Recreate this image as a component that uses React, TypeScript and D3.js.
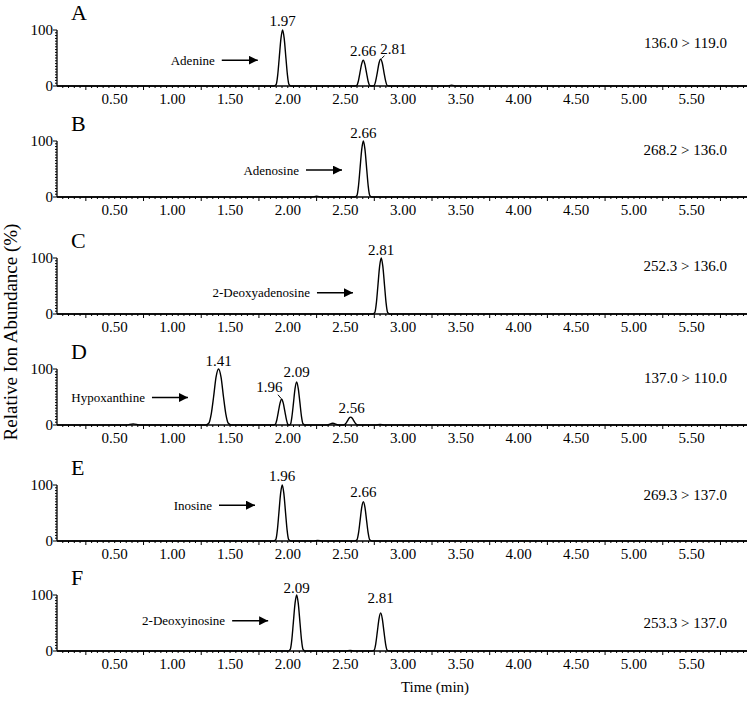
import React, { useEffect, useRef } from 'react';
import * as d3 from 'd3';

type Pt = [number, number];

// panel meta
const panelLetters = ['A', 'B', 'C', 'D', 'E', 'F'];
const transitions = ['136.0 > 119.0', '268.2 > 136.0', '252.3 > 136.0', '137.0 > 110.0', '269.3 > 137.0', '253.3 > 137.0'];
const transitionLevels = [77, 84, 86, 84, 82, 50];
const compounds = ['Adenine', 'Adenosine', '2-Deoxyadenosine', 'Hypoxanthine', 'Inosine', '2-Deoxyinosine'];
const arrowTips = [1.74, 2.47, 2.565, 1.135, 1.716, 1.83];
const arrowLevels = [46, 48, 38, 49, 64, 54];

// x axis tick labels
const xTickValues = [0.5, 1.0, 1.5, 2.0, 2.5, 3.0, 3.5, 4.0, 4.5, 5.0, 5.5];
const xTickLabels = ['0.50', '1.00', '1.50', '2.00', '2.50', '3.00', '3.50', '4.00', '4.50', '5.00', '5.50'];

// chromatogram traces (time, relative abundance %)
const traceA: Pt[] = [
  [0, 0], [1.88, 0], [1.9, 3], [1.913, 20], [1.926, 50], [1.941, 85], [1.955, 100], [1.969, 85], [1.984, 50], [1.997, 20], [2.01, 3], [2.03, 0],
  [2.579, 0], [2.599, 1.4], [2.612, 9], [2.625, 23], [2.64, 39], [2.654, 46], [2.668, 39], [2.683, 23], [2.696, 9], [2.709, 1.4], [2.729, 0],
  [2.732, 0], [2.75, 1.4], [2.763, 10], [2.776, 24], [2.791, 41], [2.805, 48], [2.819, 41], [2.834, 24], [2.847, 10], [2.86, 1.4], [2.88, 0],
  [3.38, 0], [3.42, 1.5], [3.46, 0], [5.98, 0],
];
const traceB: Pt[] = [
  [0, 0], [2.21, 0], [2.25, 1.5], [2.29, 0],
  [2.58, 0], [2.6, 3], [2.613, 20], [2.626, 50], [2.641, 85], [2.655, 100], [2.669, 85], [2.684, 50], [2.697, 20], [2.71, 3], [2.73, 0],
  [5.98, 0],
];
const traceC: Pt[] = [
  [0, 0], [2.735, 0], [2.755, 3], [2.768, 20], [2.781, 50], [2.796, 85], [2.81, 100], [2.824, 85], [2.839, 50], [2.852, 20], [2.865, 3], [2.885, 0],
  [5.98, 0],
];
const traceD: Pt[] = [
  [0, 0], [0.6, 0], [0.66, 2], [0.72, 0],
  [1.29, 0], [1.315, 3], [1.337, 20], [1.357, 50], [1.378, 85], [1.4, 100], [1.422, 85], [1.443, 50], [1.463, 20], [1.485, 3], [1.51, 0],
  [1.872, 0], [1.892, 1.4], [1.905, 9], [1.918, 23], [1.933, 39], [1.947, 46], [1.961, 39], [1.976, 23], [1.989, 9], [2.0, 1.4], [2.01, 0],
  [2.014, 0], [2.025, 2.3], [2.036, 15], [2.049, 38.5], [2.063, 65], [2.077, 77], [2.091, 65], [2.106, 38.5], [2.119, 15], [2.132, 2.3], [2.152, 0],
  [2.34, 0], [2.39, 3], [2.44, 0],
  [2.47, 0], [2.49, 0.4], [2.503, 2.8], [2.516, 7], [2.531, 12], [2.545, 14], [2.559, 12], [2.574, 7], [2.587, 2.8], [2.6, 0.4], [2.62, 0],
  [2.76, 0], [2.8, 0.8], [2.84, 0],
  [5.98, 0],
];
const traceE: Pt[] = [
  [0, 0], [1.877, 0], [1.897, 3], [1.91, 20], [1.923, 50], [1.938, 85], [1.952, 100], [1.966, 85], [1.981, 50], [1.994, 20], [2.007, 3], [2.027, 0],
  [2.22, 0], [2.26, 1], [2.3, 0],
  [2.58, 0], [2.6, 2.1], [2.613, 14], [2.626, 35], [2.641, 60], [2.655, 70], [2.669, 60], [2.684, 35], [2.697, 14], [2.71, 2.1], [2.73, 0],
  [5.98, 0],
];
const traceF: Pt[] = [
  [0, 0], [2.002, 0], [2.022, 3], [2.035, 20], [2.048, 50], [2.063, 85], [2.077, 100], [2.091, 85], [2.106, 50], [2.119, 20], [2.132, 3], [2.152, 0],
  [2.5, 0], [2.54, 1], [2.58, 0],
  [2.73, 0], [2.75, 2], [2.763, 13.6], [2.776, 34], [2.791, 58], [2.805, 68], [2.819, 58], [2.834, 34], [2.847, 13.6], [2.86, 2], [2.88, 0],
  [5.98, 0],
];
const traces = [traceA, traceB, traceC, traceD, traceE, traceF];

// retention time labels: text, time, level (%), optional leader line
type PeakLabel = { text: string; t: number; v: number; leader?: Pt[] };
const peakLabels: PeakLabel[][] = [
  [
    { text: '1.97', t: 1.955, v: 107 },
    { text: '2.66', t: 2.654, v: 54 },
    { text: '2.81', t: 2.915, v: 58, leader: [[2.838, 54], [2.812, 49]] },
  ],
  [{ text: '2.66', t: 2.655, v: 105 }],
  [{ text: '2.81', t: 2.81, v: 105 }],
  [
    { text: '1.41', t: 1.4, v: 105 },
    { text: '1.96', t: 1.84, v: 59.5, leader: [[1.915, 54], [1.944, 47]] },
    { text: '2.09', t: 2.077, v: 86 },
    { text: '2.56', t: 2.553, v: 21 },
  ],
  [
    { text: '1.96', t: 1.952, v: 107 },
    { text: '2.66', t: 2.655, v: 78 },
  ],
  [
    { text: '2.09', t: 2.077, v: 104 },
    { text: '2.81', t: 2.805, v: 86 },
  ],
];

const W = 750;
const H = 701;
const FONT = '"Liberation Serif", "Times New Roman", serif';
const panelBase = [86, 197, 314, 425, 541, 651];
const panelH = 56;

const App = () => {
  const svgRef = useRef<SVGSVGElement>(null);

  useEffect(() => {
    const svg = d3.select(svgRef.current);
    svg.selectAll('*').remove();

    const x = d3.scaleLinear().domain([0, 5.98]).range([57, 747]);

    // arrow marker
    svg
      .append('defs')
      .append('marker')
      .attr('id', 'arrowhead')
      .attr('viewBox', '0 0 10 10')
      .attr('refX', 10)
      .attr('refY', 5)
      .attr('markerWidth', 9)
      .attr('markerHeight', 9)
      .attr('markerUnits', 'userSpaceOnUse')
      .attr('orient', 'auto')
      .append('path')
      .attr('d', 'M0,0L10,5L0,10Z')
      .attr('fill', '#000');

    panelLetters.forEach((letter, i) => {
      const base = panelBase[i];
      const y = d3.scaleLinear().domain([0, 100]).range([base, base - panelH]);
      const g = svg.append('g');

      // x axis
      g.append('line')
        .attr('x1', x(0))
        .attr('x2', x(5.98))
        .attr('y1', base)
        .attr('y2', base)
        .attr('stroke', '#000')
        .attr('stroke-width', 1.3);
      g.selectAll('.xminor')
        .data(d3.range(1, 120))
        .enter()
        .append('line')
        .attr('x1', (d) => x(d * 0.05))
        .attr('x2', (d) => x(d * 0.05))
        .attr('y1', base)
        .attr('y2', (d) => base + (d % 10 === 5 ? 4 : 2))
        .attr('stroke', '#000')
        .attr('stroke-width', 1);
      g.selectAll('.xlabel')
        .data(xTickValues)
        .enter()
        .append('text')
        .attr('x', (d) => x(d))
        .attr('y', base + 18)
        .attr('text-anchor', 'middle')
        .style('font-family', FONT)
        .style('font-size', '15px')
        .text((d, j) => xTickLabels[j]);

      // y axis
      g.append('line')
        .attr('x1', x(0))
        .attr('x2', x(0))
        .attr('y1', y(0))
        .attr('y2', y(100))
        .attr('stroke', '#000')
        .attr('stroke-width', 1.3);
      g.selectAll('.yminor')
        .data(d3.range(0, 101, 5))
        .enter()
        .append('line')
        .attr('x1', x(0))
        .attr('x2', (d) => x(0) - (d % 100 === 0 ? 4 : 2))
        .attr('y1', (d) => y(d))
        .attr('y2', (d) => y(d))
        .attr('stroke', '#000')
        .attr('stroke-width', 1);
      g.selectAll('.ylabel')
        .data([0, 100])
        .enter()
        .append('text')
        .attr('x', x(0) - 4)
        .attr('y', (d) => y(d))
        .attr('dy', '0.35em')
        .attr('text-anchor', 'end')
        .style('font-family', FONT)
        .style('font-size', '15px')
        .text((d) => String(d));

      // trace
      const line = d3
        .line<Pt>()
        .x((d) => x(d[0]))
        .y((d) => y(d[1]))
        .curve(d3.curveMonotoneX);
      g.append('path')
        .datum(traces[i])
        .attr('d', line)
        .attr('fill', 'none')
        .attr('stroke', '#000')
        .attr('stroke-width', 1.4);

      // panel letter
      g.append('text')
        .attr('x', 71)
        .attr('y', y(100) - 10)
        .style('font-family', FONT)
        .style('font-size', '22px')
        .text(letter);

      // transition
      g.append('text')
        .attr('x', 727)
        .attr('y', y(transitionLevels[i]))
        .attr('dy', '0.35em')
        .attr('text-anchor', 'end')
        .style('font-family', FONT)
        .style('font-size', '15px')
        .text(transitions[i]);

      // compound arrow + label
      const tipX = x(arrowTips[i]);
      const ay = y(arrowLevels[i]);
      g.append('line')
        .attr('x1', tipX - 36)
        .attr('x2', tipX)
        .attr('y1', ay)
        .attr('y2', ay)
        .attr('stroke', '#000')
        .attr('stroke-width', 1.5)
        .attr('marker-end', 'url(#arrowhead)');
      g.append('text')
        .attr('x', tipX - 43)
        .attr('y', ay)
        .attr('dy', '0.35em')
        .attr('text-anchor', 'end')
        .style('font-family', FONT)
        .style('font-size', '13px')
        .text(compounds[i]);

      // peak labels
      peakLabels[i].forEach((p) => {
        g.append('text')
          .attr('x', x(p.t))
          .attr('y', y(p.v))
          .attr('text-anchor', 'middle')
          .style('font-family', FONT)
          .style('font-size', '15px')
          .text(p.text);
        if (p.leader) {
          g.append('path')
            .attr('d', d3.line<Pt>().x((d) => x(d[0])).y((d) => y(d[1]))(p.leader))
            .attr('fill', 'none')
            .attr('stroke', '#000')
            .attr('stroke-width', 1);
        }
      });
    });

    // axis titles
    svg
      .append('text')
      .attr('transform', 'translate(17,332) rotate(-90)')
      .attr('text-anchor', 'middle')
      .style('font-family', FONT)
      .style('font-size', '19px')
      .text('Relative Ion Abundance (%)');
    svg
      .append('text')
      .attr('x', 435)
      .attr('y', 692)
      .attr('text-anchor', 'middle')
      .style('font-family', FONT)
      .style('font-size', '15px')
      .text('Time (min)');
  }, []);

  return (
    <svg
      ref={svgRef}
      width={W}
      height={H}
      style={{ position: 'absolute', left: 0, top: 0, background: '#fff' }}
    />
  );
};

export default App;
